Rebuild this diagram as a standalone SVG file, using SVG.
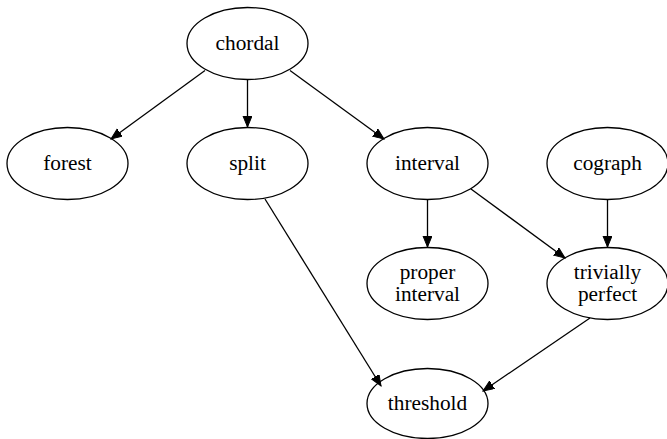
<svg xmlns="http://www.w3.org/2000/svg" width="667" height="439" viewBox="0 0 667 439">
<style>
.node ellipse{fill:none;stroke:#000;stroke-width:1.3}
.node text{font-family:"Liberation Serif","Times New Roman",serif;font-size:21.3px;fill:#000;text-anchor:middle}
.edges line{stroke:#000;stroke-width:1.3;marker-end:url(#ah)}
</style>
<defs>
<marker id="ah" markerUnits="userSpaceOnUse" markerWidth="12" markerHeight="10" refX="11" refY="4.5" orient="auto">
<path d="M0,0 L11,4.5 L0,9 Z" fill="#000" stroke="#000" stroke-width="1"/>
</marker>
</defs>
<rect width="667" height="439" fill="#fff"/>
<g class="edges" id="edges">
<line x1="205" y1="70.5" x2="111" y2="139"/>
<line x1="247.5" y1="80" x2="247.5" y2="127"/>
<line x1="290" y1="70.5" x2="384" y2="139"/>
<line x1="427.5" y1="200" x2="427.5" y2="247"/>
<line x1="471" y1="189" x2="565" y2="258"/>
<line x1="607.5" y1="200" x2="607.5" y2="247"/>
<line x1="265" y1="199" x2="381" y2="386"/>
<line x1="590" y1="318" x2="483" y2="391"/>
</g>
<g class="node" id="chordal"><ellipse cx="247.5" cy="43.5" rx="60.5" ry="36"/><text x="247.5" y="50">chordal</text></g>
<g class="node" id="forest"><ellipse cx="67.5" cy="163.5" rx="60.5" ry="36"/><text x="67.5" y="170">forest</text></g>
<g class="node" id="split"><ellipse cx="247.5" cy="163.5" rx="60.5" ry="36"/><text x="247.5" y="170">split</text></g>
<g class="node" id="interval"><ellipse cx="427.5" cy="163.5" rx="60.5" ry="36"/><text x="427.5" y="170">interval</text></g>
<g class="node" id="cograph"><ellipse cx="607.5" cy="163.5" rx="60.5" ry="36"/><text x="607.5" y="170">cograph</text></g>
<g class="node" id="proper_interval"><ellipse cx="427.5" cy="283.5" rx="60.5" ry="36"/><text x="427.5" y="279">proper</text><text x="427.5" y="301">interval</text></g>
<g class="node" id="trivially_perfect"><ellipse cx="607.5" cy="283.5" rx="60.5" ry="36"/><text x="607.5" y="279">trivially</text><text x="607.5" y="301">perfect</text></g>
<g class="node" id="threshold"><ellipse cx="427.5" cy="403.5" rx="60.5" ry="35"/><text x="427.5" y="410">threshold</text></g>
</svg>
